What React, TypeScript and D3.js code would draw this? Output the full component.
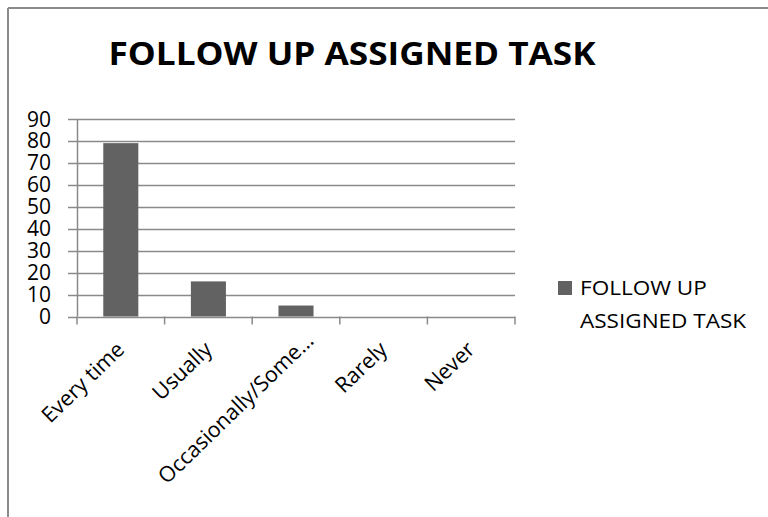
import React from "react";
import * as d3 from "d3";

const categories: string[] = ["Every time", "Usually", "Occasionally/Some…", "Rarely", "Never"];
const values: number[] = [79, 16, 5, 0, 0];
const yTicks: number[] = [0, 10, 20, 30, 40, 50, 60, 70, 80, 90];
const seriesName = "FOLLOW UP ASSIGNED TASK";
const legendLines: string[] = ["FOLLOW UP", "ASSIGNED TASK"];

const W = 768;
const H = 517;
const FONT = "'Open Sans', 'Noto Sans', sans-serif";
const BAR = "#626262";
const GRID = "#8a8a8a";

// label anchor shifts (layout only)
const labelShift: Record<string, [number, number]> = {
  "Occasionally/Some…": [19, 342],
};

export default function App() {
  const x = d3.scaleBand<string>().domain(categories).range([77, 515]).paddingInner(0.6).paddingOuter(0.3);
  const y = d3.scaleLinear().domain([0, 90]).range([316.5, 119]);
  const step = x.step();
  const x0 = 77;
  const boundaries = d3.range(categories.length + 1).map((i) => x0 + i * step);

  return (
    <svg width={W} height={H} style={{ position: "absolute", left: 0, top: 0, background: "#fff" }}>
      {/* frame */}
      <line x1={8} y1={8} x2={W} y2={8} stroke={GRID} strokeWidth={2} />
      <line x1={8} y1={8} x2={8} y2={H} stroke={GRID} strokeWidth={2} />

      <text
        transform="translate(352,65) scale(1.1,1)"
        textAnchor="middle"
        fontFamily={FONT}
        fontWeight="bold"
        fontSize={32}
        fill="#000"
      >
        {seriesName}
      </text>

      {/* gridlines + y ticks */}
      {yTicks.map((t) => (
        <g key={t}>
          <line x1={68} x2={515} y1={Math.round(y(t)) + 0.5} y2={Math.round(y(t)) + 0.5} stroke={GRID} strokeWidth={1.5} />
          <text x={51} y={y(t) + 7.5} textAnchor="end" fontFamily={FONT} fontSize={21} fill="#000">
            {t}
          </text>
        </g>
      ))}
      {/* y axis */}
      <line x1={77.5} x2={77.5} y1={y(90)} y2={y(0)} stroke={GRID} strokeWidth={1.5} />
      {/* x ticks */}
      {boundaries.map((b, i) => (
        <line key={i} x1={b} x2={b} y1={y(0)} y2={y(0) + 8} stroke={GRID} strokeWidth={1.5} />
      ))}

      {/* bars */}
      {categories.map((c, i) => (
        <rect key={c} x={x(c)} y={y(values[i])} width={x.bandwidth()} height={y(0) - y(values[i])} fill={BAR} />
      ))}

      {/* x labels */}
      {categories.map((c) => {
        const cx = (x(c) as number) + x.bandwidth() / 2;
        const s = labelShift[c] || [5, 351];
        return (
          <text
            key={c}
            transform={`translate(${cx + s[0]},${s[1]}) rotate(-44)`}
            textAnchor="end"
            fontFamily={FONT}
            fontSize={21.5}
            fill="#000"
          >
            {c}
          </text>
        );
      })}

      {/* legend */}
      <rect x={558} y={281} width={14} height={14} fill={BAR} />
      {legendLines.map((l, i) => (
        <text
          key={l}
          transform={`translate(580,${295 + i * 33}) scale(1.1,1)`}
          fontFamily={FONT}
          fontSize={20.5}
          fill="#000"
        >
          {l}
        </text>
      ))}
    </svg>
  );
}
